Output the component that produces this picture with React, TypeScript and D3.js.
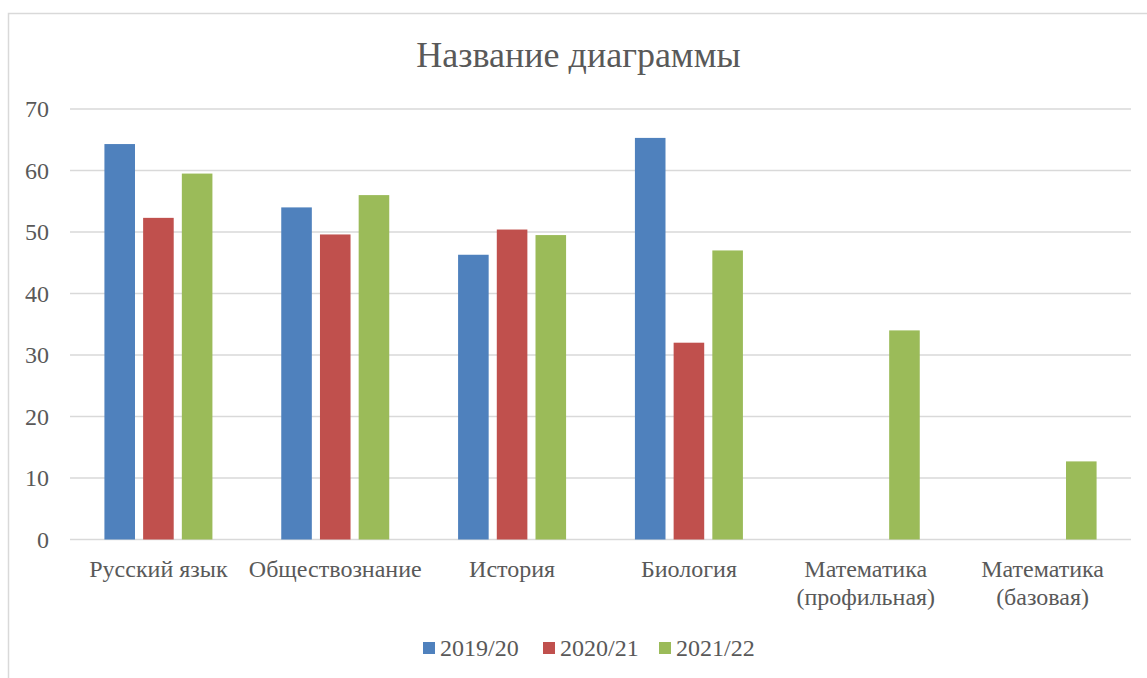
import React from "react";
import * as d3 from "d3";

const categories = [
  "Русский язык",
  "Обществознание",
  "История",
  "Биология",
  "Математика\n(профильная)",
  "Математика\n(базовая)",
];
const seriesNames = ["2019/20", "2020/21", "2021/22"];
const values2019 = [64.3, 54.0, 46.3, 65.3, null, null];
const values2020 = [52.3, 49.6, 50.4, 32.0, null, null];
const values2021 = [59.5, 56.0, 49.5, 47.0, 34.0, 12.7];
const yTicks = [0, 10, 20, 30, 40, 50, 60, 70];
const colors = ["#4F81BD", "#C0504D", "#9BBB59"];
const title = "Название диаграммы";

const W = 1147;
const H = 678;
const FONT = "Liberation Serif";
const TEXT = "#595959";
const ts = { fontFamily: FONT };

export default function App() {
  const seriesValues = [values2019, values2020, values2021];
  const x = d3.scaleBand<string>().domain(categories).range([70, 1131]);
  const sub = d3.scaleBand<string>().domain(seriesNames).range([-54, 54]).paddingInner(0.21);
  const y = d3.scaleLinear().domain([0, 70]).range([539.5, 109]);

  const legendItems = [
    { name: seriesNames[0], x: 423 },
    { name: seriesNames[1], x: 543 },
    { name: seriesNames[2], x: 659 },
  ];

  return (
    <svg width={W} height={H} style={{ position: "absolute", left: 0, top: 0, background: "#fff" }}>
      <rect x={0} y={0} width={W} height={H} fill="#fff" />
      <rect x={8.5} y={13.5} width={W + 20} height={H + 20} fill="#fff" stroke="#D9D9D9" strokeWidth={1.5} />
      <text x={578.5} y={67} textAnchor="middle" fontSize={36} fill={TEXT} style={ts}>
        {title}
      </text>
      {yTicks.map((t) => (
        <g key={t}>
          <line x1={70} x2={1131} y1={y(t)} y2={y(t)} stroke="#D9D9D9" strokeWidth={1.5} />
          <text x={49} y={y(t) + 8} textAnchor="end" fontSize={24} fill={TEXT} style={ts}>
            {t}
          </text>
        </g>
      ))}
      {seriesValues.map((vals, si) =>
        vals.map((v, ci) =>
          v == null ? null : (
            <rect
              key={`${si}-${ci}`}
              x={(x(categories[ci]) as number) + x.bandwidth() / 2 + (sub(seriesNames[si]) as number)}
              y={y(v)}
              width={sub.bandwidth()}
              height={y(0) - y(v)}
              fill={colors[si]}
            />
          )
        )
      )}
      {categories.map((c) => (
        <text
          key={c}
          x={(x(c) as number) + x.bandwidth() / 2}
          y={577}
          textAnchor="middle"
          fontSize={24}
          fill={TEXT}
          style={ts}
        >
          {c.split("\n").map((line, i) => (
            <tspan key={i} x={(x(c) as number) + x.bandwidth() / 2} dy={i === 0 ? 0 : 28}>
              {line}
            </tspan>
          ))}
        </text>
      ))}
      {legendItems.map((l, i) => (
        <g key={l.name}>
          <rect x={l.x} y={642} width={12} height={12} fill={colors[i]} />
          <text x={l.x + 17} y={656} fontSize={24} fill={TEXT} style={ts}>
            {l.name}
          </text>
        </g>
      ))}
    </svg>
  );
}
